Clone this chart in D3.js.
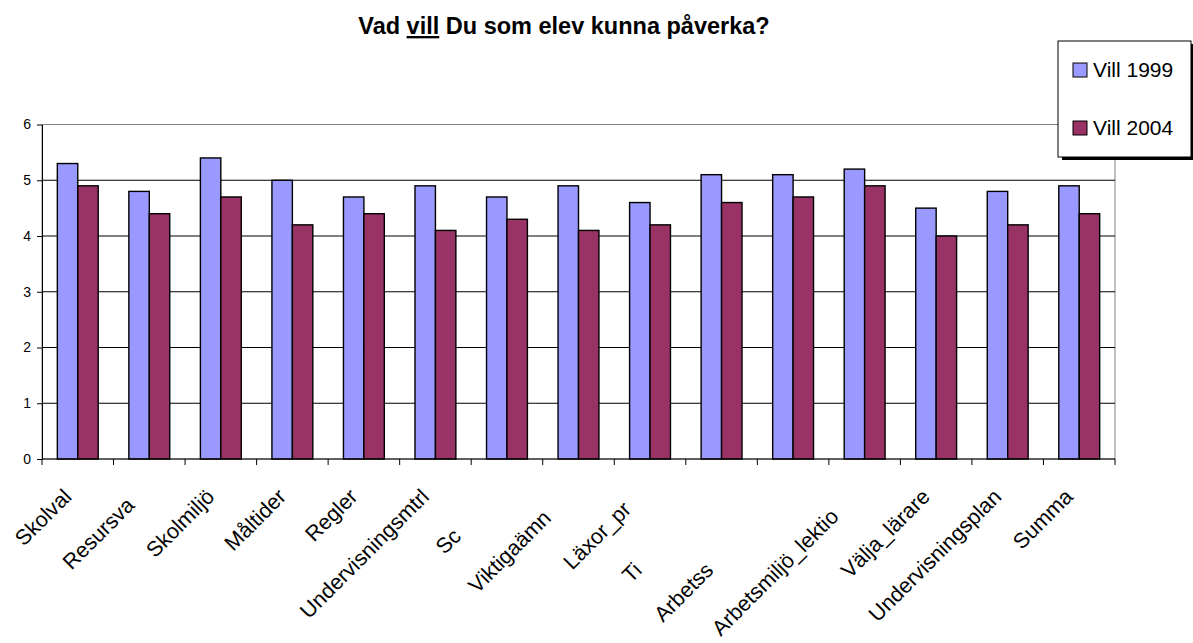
<!DOCTYPE html>
<html lang="sv">
<head>
  <meta charset="UTF-8">
  <title>Vad vill Du som elev kunna påverka?</title>
  <script src="https://d3js.org/d3.v7.min.js"></script>
  <style>
    * { margin: 0; padding: 0; box-sizing: border-box; }
    body { background: #fff; font-family: Arial, "Liberation Sans", sans-serif; }
  </style>
</head>
<body>
  <div id="chart"></div>
  <script>
    // labels as they show up on the axis (Excel cut some of them off)
    const categories = ["Skolval", "Resursva", "Skolmiljö", "Måltider", "Regler",
      "Undervisningsmtrl", "Sc", "Viktigaämn", "Läxor_pr", "Ti", "Arbetss",
      "Arbetsmiljö_lektio", "Välja_lärare", "Undervisningsplan", "Summa"];
    const series = ["Vill 1999", "Vill 2004"];
    const vill1999 = [5.3, 4.8, 5.4, 5.0, 4.7, 4.9, 4.7, 4.9, 4.6, 5.1, 5.1, 5.2, 4.5, 4.8, 4.9];
    const vill2004 = [4.9, 4.4, 4.7, 4.2, 4.4, 4.1, 4.3, 4.1, 4.2, 4.6, 4.7, 4.9, 4.0, 4.2, 4.4];
    const yTicks = [0, 1, 2, 3, 4, 5, 6];

    const W = 1193, H = 643;
    const plot = {left: 42, right: 1115, top: 124.5, bottom: 459};
    const colors = {"Vill 1999": "#9999ff", "Vill 2004": "#993366"};
    const font = 'Arial, "Liberation Sans", sans-serif';

    const svg = d3.select("#chart").append("svg")
      .attr("width", W)
      .attr("height", H)
      .style("font-family", font);

    const x = d3.scaleBand()
      .domain(categories)
      .range([plot.left, plot.right]);

    // excel gap width 150%
    const xs = d3.scaleBand()
      .domain(series)
      .range([0, x.bandwidth()])
      .paddingInner(0)
      .paddingOuter(0.75);

    const y = d3.scaleLinear()
      .domain([0, 6])
      .range([plot.bottom, plot.top]);

    // title
    const title = svg.append("text")
      .attr("x", 564)
      .attr("y", 34)
      .attr("text-anchor", "middle")
      .style("font-size", "23.5px")
      .style("font-weight", "bold");
    title.append("tspan").text("Vad ");
    title.append("tspan").style("text-decoration", "underline").text("vill");
    title.append("tspan").text(" Du som elev kunna påverka?");

    // plot frame
    svg.append("rect")
      .attr("x", plot.left)
      .attr("y", plot.top)
      .attr("width", plot.right - plot.left)
      .attr("height", plot.bottom - plot.top)
      .attr("fill", "none")
      .attr("stroke", "#808080");

    // gridlines
    svg.append("g")
      .selectAll("line")
      .data(yTicks.slice(1, -1))
      .join("line")
      .attr("x1", plot.left)
      .attr("x2", plot.right)
      .attr("y1", d => y(d))
      .attr("y2", d => y(d))
      .attr("stroke", "#000");

    // bars
    const rows = categories.map((c, i) => ({cat: c, vals: [vill1999[i], vill2004[i]]}));
    svg.append("g")
      .selectAll("g")
      .data(rows)
      .join("g")
      .attr("transform", d => `translate(${x(d.cat)},0)`)
      .selectAll("rect")
      .data(d => d.vals.map((v, i) => ({s: series[i], v})))
      .join("rect")
      .attr("x", d => xs(d.s))
      .attr("width", xs.bandwidth())
      .attr("y", d => y(d.v))
      .attr("height", d => y(0) - y(d.v))
      .attr("fill", d => colors[d.s])
      .attr("stroke", "#000")
      .attr("stroke-width", 1.4);

    // y axis
    const yAxis = svg.append("g")
      .attr("transform", `translate(${plot.left},0)`)
      .call(d3.axisLeft(y).tickValues(yTicks).tickFormat(d3.format("d"))
        .tickSize(5).tickSizeOuter(0).tickPadding(6));
    yAxis.selectAll("path, line").attr("stroke", "#000");
    yAxis.selectAll("text")
      .style("font-size", "14px")
      .style("font-family", font)
      .attr("fill", "#000");

    // x axis: ticks on category boundaries
    const xAxis = svg.append("g");
    xAxis.append("line")
      .attr("x1", plot.left).attr("x2", plot.right)
      .attr("y1", plot.bottom).attr("y2", plot.bottom)
      .attr("stroke", "#000");
    xAxis.selectAll(".tk")
      .data(categories.concat([null]))
      .join("line")
      .attr("class", "tk")
      .attr("x1", d => d === null ? plot.right : x(d))
      .attr("x2", d => d === null ? plot.right : x(d))
      .attr("y1", plot.bottom)
      .attr("y2", plot.bottom + 6)
      .attr("stroke", "#000");

    // some labels sit further down along their own line
    const shift = {1: 12, 6: 56, 7: 30, 8: 18, 9: 104, 10: 104, 11: 28};
    xAxis.selectAll(".lbl")
      .data(categories)
      .join("text")
      .attr("class", "lbl")
      .attr("text-anchor", "end")
      .attr("transform", (d, i) => {
        const s = shift[i] || 0;
        const cx = x(d) + x.bandwidth() / 2 - 5 - s * Math.SQRT1_2;
        const cy = plot.bottom + 39 + s * Math.SQRT1_2;
        return `translate(${cx},${cy}) rotate(-45)`;
      })
      .style("font-size", "21.5px")
      .text(d => d);

    // legend
    const lg = svg.append("g").attr("transform", "translate(1058,41)");
    lg.append("rect")
      .attr("x", 4).attr("y", 3)
      .attr("width", 133).attr("height", 116)
      .attr("fill", "#000");
    lg.append("rect")
      .attr("width", 133).attr("height", 116)
      .attr("fill", "#fff")
      .attr("stroke", "#000");
    series.forEach((s, i) => {
      const row = lg.append("g").attr("transform", `translate(15,${22 + i * 58})`);
      row.append("rect")
        .attr("width", 14).attr("height", 14)
        .attr("fill", colors[s])
        .attr("stroke", "#000");
      row.append("text")
        .attr("x", 20)
        .attr("y", 14)
        .style("font-size", "21px")
        .text(s);
    });
  </script>
</body>
</html>
